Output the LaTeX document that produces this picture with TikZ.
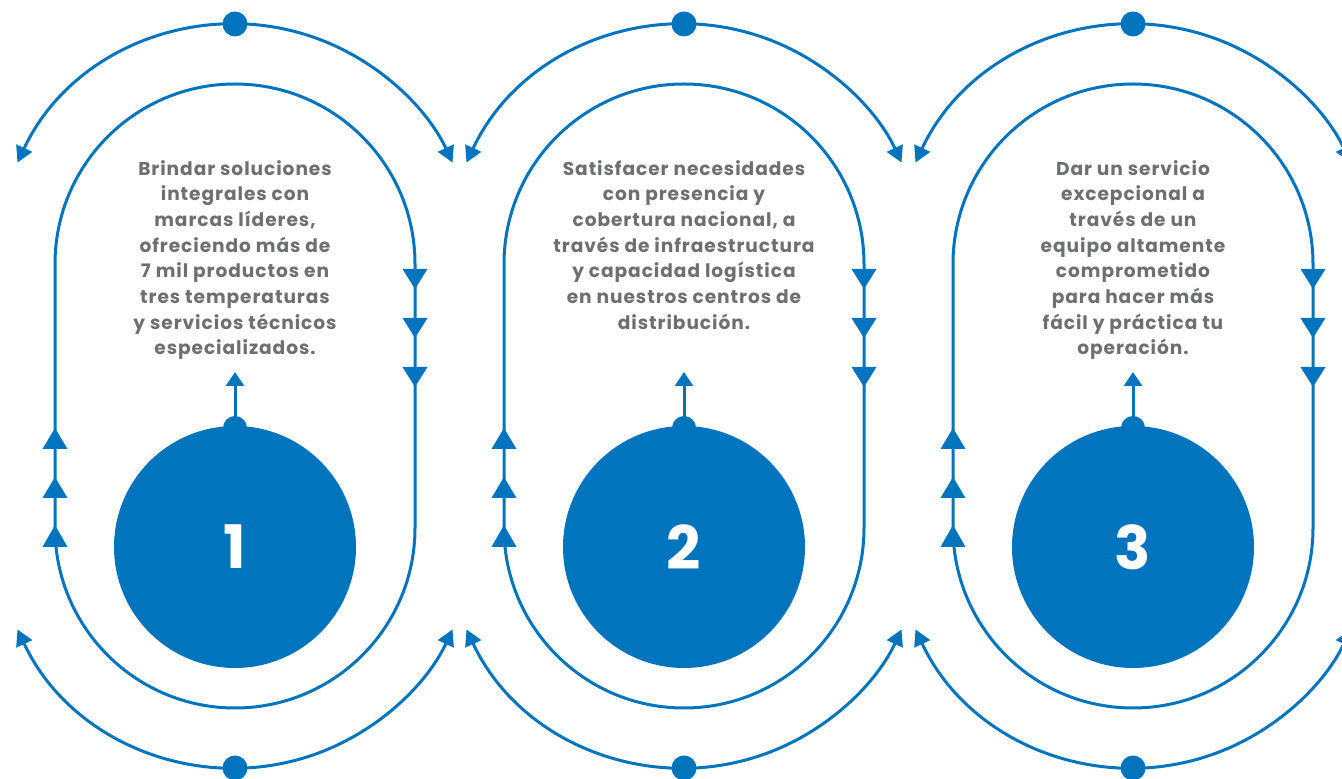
\documentclass[tikz,border=0pt]{standalone}
\usepackage{fontspec}
\setmainfont{Poppins}
\usetikzlibrary{arrows.meta}
\definecolor{cblue}{RGB}{0,116,189}
\definecolor{cgray}{RGB}{110,111,114}
\tikzset{
  ln/.style={draw=cblue, line width=3pt},
  tri/.style={fill=cblue},
  dotnode/.style={circle, fill=cblue, inner sep=0pt, minimum size=25pt},
  knobnode/.style={circle, fill=cblue, inner sep=0pt, minimum size=24pt},
  bignum/.style={circle, fill=cblue, inner sep=0pt, minimum size=242pt, text=white, font=\fontsize{60}{60}\selectfont\bfseries},
  txt/.style={text=cgray, align=center, inner sep=0pt, anchor=north, font=\fontsize{18.6}{25.7}\selectfont\bfseries\addfontfeature{LetterSpace=5}},
  arcarrow/.style={ln, {Triangle[length=16pt,width=17pt]}-{Triangle[length=16pt,width=17pt]}},
  upstem/.style={ln, -{Triangle[length=14pt,width=18pt]}}
}
\newcommand\drawpanel[4]{%
\begin{scope}[xshift=#2pt]
  \draw[ln] (-180,251) -- (-180,515) arc[start angle=180,end angle=0,radius=180]
     -- (180,251) arc[start angle=0,end angle=-180,radius=180] -- cycle;
  \draw[arcarrow] (-217.5,616.4) arc[start angle=155,end angle=25,radius=240];
  \draw[arcarrow] (-217.5,149.6) arc[start angle=205,end angle=335,radius=240];
  \node[dotnode] (#1top) at (0,755) {};
  \node[dotnode] (#1bot) at (0,11) {};
  \fill[tri] (167.5,510) -- (192.5,510) -- (180,490) -- cycle;
  \fill[tri] (167.5,461) -- (192.5,461) -- (180,441) -- cycle;
  \fill[tri] (167.5,412) -- (192.5,412) -- (180,392) -- cycle;
  \fill[tri] (-192.5,330) -- (-167.5,330) -- (-180,351) -- cycle;
  \fill[tri] (-192.5,281) -- (-167.5,281) -- (-180,302) -- cycle;
  \fill[tri] (-192.5,232) -- (-167.5,232) -- (-180,254) -- cycle;
  \node[knobnode] (#1knob) at (0,351) {};
  \node[bignum] (#1num) at (0,232) {#3};
  \coordinate (#1aim) at (0,407);
  \draw[upstem] (#1knob.center) -- (#1aim);
  \node[txt] (#1text) at (0,619) {#4};
\end{scope}}
\begin{document}
\begin{tikzpicture}[x=1pt,y=1pt]
\useasboundingbox (0,0) rectangle (1342,779);
\drawpanel{a}{235}{1}{Brindar soluciones\\integrales con\\marcas líderes,\\ofreciendo más de\\7 mil productos en\\tres temperaturas\\y servicios técnicos\\especializados.}
\drawpanel{b}{684}{2}{Satisfacer necesidades\\con presencia y\\cobertura nacional, a\\través de infraestructura\\y capacidad logística\\en nuestros centros de\\distribución.}
\drawpanel{c}{1133}{3}{Dar un servicio\\excepcional a\\través de un\\equipo altamente\\comprometido\\para hacer más\\fácil y práctica tu\\operación.}
\end{tikzpicture}
\end{document}
